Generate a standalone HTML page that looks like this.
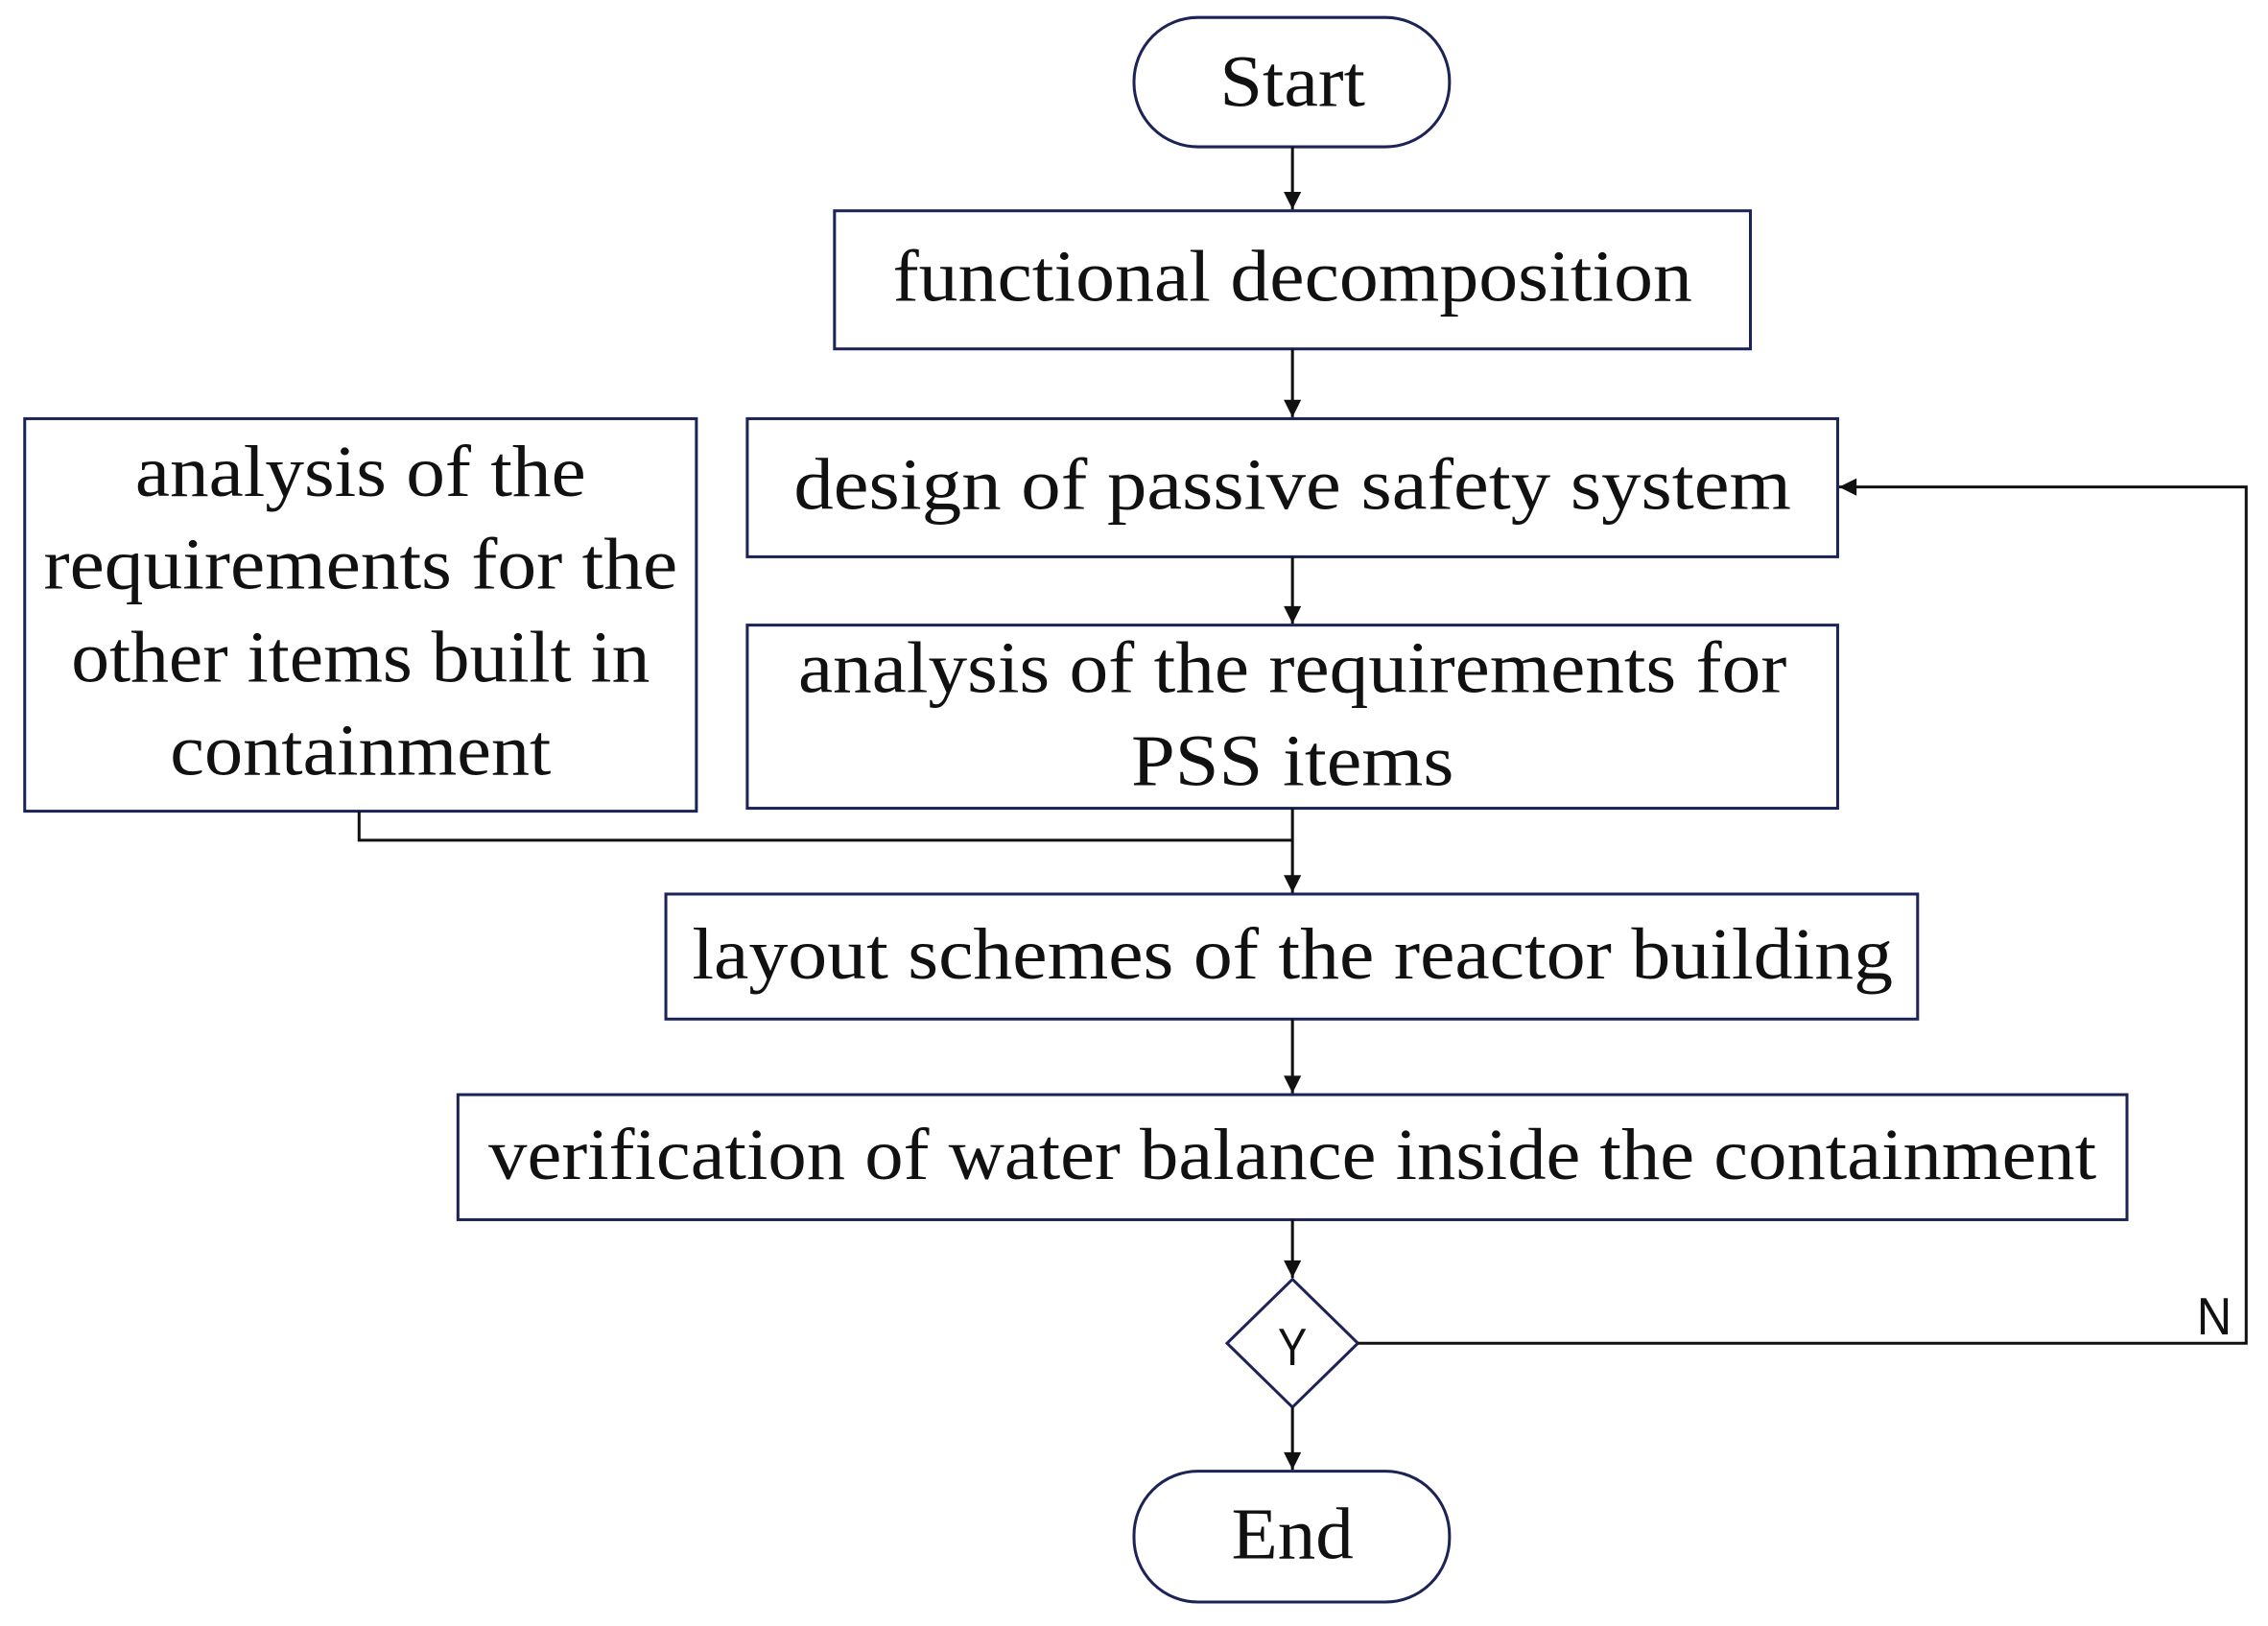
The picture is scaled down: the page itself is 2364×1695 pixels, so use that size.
<!DOCTYPE html>
<html><head><meta charset="utf-8"><style>html,body{margin:0;padding:0;background:#fff}svg{display:block}</style></head>
<body>
<svg width="2364" height="1695" viewBox="0 0 1560 1118.5" preserveAspectRatio="none" xmlns="http://www.w3.org/2000/svg">
<defs><marker id="a" viewBox="0 0 10 10" refX="10" refY="5" markerWidth="16" markerHeight="12" markerUnits="userSpaceOnUse" orient="auto"><path d="M0,0 L10,5 L0,10 z" fill="#111"/></marker></defs>
<g fill="#fff" stroke="#1c2356" stroke-width="2">
<rect x="780" y="12" width="217" height="89" rx="44" ry="44"/>
<rect x="574" y="145" width="630" height="95"/>
<rect x="514" y="288" width="750" height="95"/>
<rect x="17" y="288" width="462" height="270"/>
<rect x="514" y="430" width="750" height="126"/>
<rect x="458" y="615" width="861" height="86"/>
<rect x="315" y="753" width="1148" height="86"/>
<path d="M889,880 L934,924 L889,968 L844,924 z"/>
<rect x="780" y="1012" width="217" height="90" rx="44" ry="44"/>
</g>
<g stroke="#111" stroke-width="2" fill="none">
<line x1="889" y1="101" x2="889" y2="144" marker-end="url(#a)"/>
<line x1="889" y1="240" x2="889" y2="287" marker-end="url(#a)"/>
<line x1="889" y1="383" x2="889" y2="429" marker-end="url(#a)"/>
<line x1="889" y1="556" x2="889" y2="614" marker-end="url(#a)"/>
<polyline points="247,558 247,578 889,578"/>
<line x1="889" y1="701" x2="889" y2="752" marker-end="url(#a)"/>
<line x1="889" y1="839" x2="889" y2="879" marker-end="url(#a)"/>
<line x1="889" y1="968" x2="889" y2="1011" marker-end="url(#a)"/>
<polyline points="934,924 1545,924 1545,335 1265,335" marker-end="url(#a)"/>
</g>
<g font-family="Liberation Serif, serif" font-size="50" fill="#111" text-anchor="middle">
<text x="889" y="73" textLength="100" lengthAdjust="spacingAndGlyphs">Start</text>
<text x="889" y="207" textLength="550" lengthAdjust="spacingAndGlyphs">functional decomposition</text>
<text x="889" y="350" textLength="686" lengthAdjust="spacingAndGlyphs">design of passive safety system</text>
<text x="248" y="341" textLength="310" lengthAdjust="spacingAndGlyphs">analysis of the</text>
<text x="248" y="405" textLength="436" lengthAdjust="spacingAndGlyphs">requirements for the</text>
<text x="248" y="469" textLength="398" lengthAdjust="spacingAndGlyphs">other items built in</text>
<text x="248" y="533" textLength="262" lengthAdjust="spacingAndGlyphs">containment</text>
<text x="889" y="476" textLength="680" lengthAdjust="spacingAndGlyphs">analysis of the requirements for</text>
<text x="889" y="540" textLength="222" lengthAdjust="spacingAndGlyphs">PSS items</text>
<text x="889" y="673" textLength="826" lengthAdjust="spacingAndGlyphs">layout schemes of the reactor building</text>
<text x="889" y="811" textLength="1106" lengthAdjust="spacingAndGlyphs">verification of water balance inside the containment</text>
<text x="889" y="1072" textLength="84" lengthAdjust="spacingAndGlyphs">End</text>
</g>
<g font-family="Liberation Sans, sans-serif" font-size="36" fill="#111" text-anchor="middle">
<text x="889" y="939" textLength="20" lengthAdjust="spacingAndGlyphs">Y</text>
<text x="1523" y="918" textLength="24" lengthAdjust="spacingAndGlyphs">N</text>
</g>
</svg>
</body></html>
